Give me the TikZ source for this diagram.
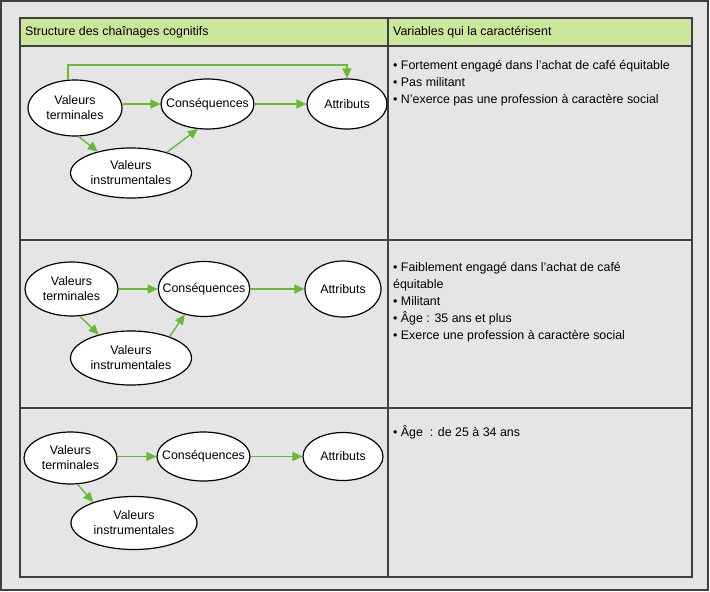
\documentclass[tikz,border=0pt]{standalone}
\usepackage{fontspec}
\setmainfont{Liberation Sans}
\usetikzlibrary{shapes.geometric,arrows.meta}
\definecolor{hdrgreen}{RGB}{204,230,155}
\definecolor{arrgreen}{RGB}{102,187,51}
\definecolor{bggray}{RGB}{229,229,229}
\definecolor{rulegray}{RGB}{64,64,64}

\begin{document}
\begin{tikzpicture}[x=1pt,y=-1pt]
\tikzstyle{every node}+=[inner sep=0pt, font=\fontsize{12.4}{15}\selectfont]
\tikzstyle{val}=[ellipse, draw=black, line width=1.2pt, fill=white, align=center, inner xsep=-9pt, inner ysep=-4pt]
\tikzstyle{flow}=[draw=arrgreen, line width=1.4pt, -{Triangle[length=10pt,width=9pt]}]
\tikzstyle{cell}=[anchor=north west, align=left, font=\fontsize{12.4}{17}\selectfont]
\useasboundingbox (0,0) rectangle (710,592);
% frame and table
\draw [rulegray, fill=bggray, line width=1.5pt] (1,1) rectangle (708,590);
\fill [hdrgreen] (20,18) rectangle (692,46);
\draw [rulegray, line width=1.2pt] (20,18) rectangle (692,577);
\draw [rulegray, line width=1.2pt] (20,46) -- (692,46);
\draw [rulegray, line width=1.2pt] (20,240) -- (692,240);
\draw [rulegray, line width=1.2pt] (20,408) -- (692,408);
\draw [rulegray, line width=1.2pt] (388,18) -- (388,577);
\node [anchor=west] (h1) at (25,32) {Structure des chaînages cognitifs};
\node [anchor=west] (h2) at (393,32) {Variables qui la caractérisent};
% row 1
\node [val, minimum width=94, minimum height=56] (vt1) at (75,108) {Valeurs\\terminales};
\node [val, minimum width=93, minimum height=50] (cq1) at (207.5,104) {Conséquences};
\node [val, minimum width=80, minimum height=50] (at1) at (347,104) {Attributs};
\node [val, minimum width=121, minimum height=50] (vi1) at (131,173) {Valeurs\\instrumentales};
\coordinate (top1) at (200,65);
\draw [flow] (vt1.104) |- (top1) -| (at1.north);
\draw [flow] (vt1.east |- cq1.west) -- (cq1.west);
\draw [flow] (cq1.east) -- (at1.west);
\draw [flow] (vt1.-83) -- (vi1.147);
\draw [flow] (vi1.30) -- (cq1.-111);
\node [cell] (v1) at (393,60) {• Fortement engagé dans l’achat de café équitable\\• Pas militant\\• N’exerce pas une profession à caractère social};
% row 2
\node [val, minimum width=93, minimum height=54] (vt2) at (71.5,289) {Valeurs\\terminales};
\node [val, minimum width=90, minimum height=55] (cq2) at (204,289) {Conséquences};
\node [val, minimum width=76, minimum height=56] (at2) at (343,289) {Attributs};
\node [val, minimum width=121, minimum height=54] (vi2) at (131,358) {Valeurs\\instrumentales};
\draw [flow] (vt2.east) -- (cq2.west);
\draw [flow] (cq2.east) -- (at2.west);
\draw [flow] (vt2.-73) -- (vi2.144);
\draw [flow] (vi2.29) -- (cq2.-127);
\node [cell] (v2) at (393,262) {• Faiblement engagé dans l’achat de café\\équitable\\• Militant\\• Âge : 35 ans et plus\\• Exerce une profession à caractère social};
% row 3
\node [val, minimum width=93, minimum height=52] (vt3) at (70.5,458) {Valeurs\\terminales};
\node [val, minimum width=93, minimum height=49] (cq3) at (203.5,456.5) {Conséquences};
\node [val, minimum width=80, minimum height=48] (at3) at (343,456.5) {Attributs};
\node [val, minimum width=126, minimum height=53] (vi3) at (134,523) {Valeurs\\instrumentales};
\draw [flow] (vt3.east |- cq3.west) -- (cq3.west);
\draw [flow] (cq3.east) -- (at3.west);
\draw [flow] (vt3.-75) -- (vi3.153);
\node [cell] (v3) at (393,425) {• Âge~ : de 25 à 34 ans};
\end{tikzpicture}
\end{document}
